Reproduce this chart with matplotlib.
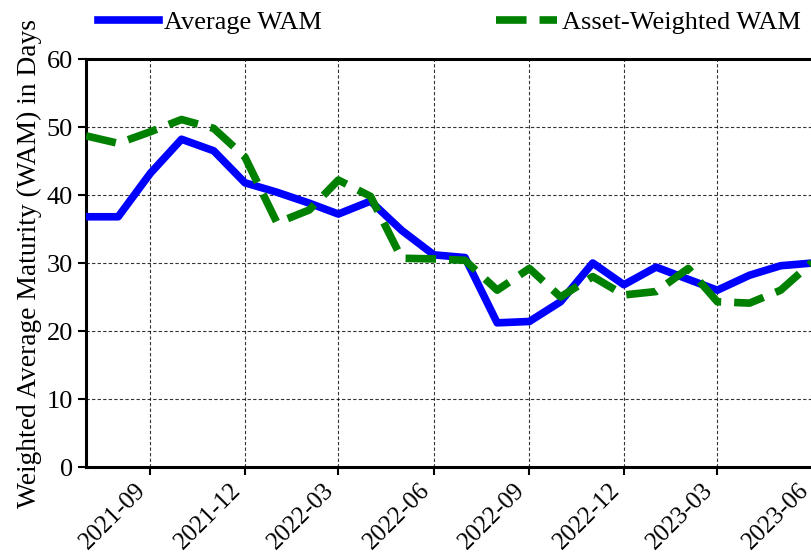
import matplotlib
matplotlib.use("Agg")
import matplotlib.pyplot as plt
import matplotlib.dates as mdates
import pandas as pd

dates = pd.date_range("2021-07-01", "2023-06-01", freq="MS")
average_wam = [36.8, 36.8, 43.2, 48.2, 46.5, 41.8, 40.4, 38.8, 37.2, 39.1, 34.8, 31.2,
               30.8, 21.2, 21.4, 24.3, 30.0, 26.8, 29.4, 27.6, 26.0, 28.2, 29.6, 30.0]
asset_weighted_wam = [48.7, 47.6, 49.3, 51.1, 49.8, 45.6, 35.9, 37.8, 42.2, 39.8, 30.7, 30.6,
                      30.4, 26.0, 29.2, 25.0, 28.0, 25.3, 25.8, 29.2, 24.3, 24.1, 26.0, 30.2]
tick_dates = pd.date_range("2021-09-01", "2023-06-01", freq="3MS")
y_ticks = [0, 10, 20, 30, 40, 50, 60]

plt.rcParams["font.family"] = ["Liberation Serif", "DejaVu Serif"]

W, H = 812, 556
fig = plt.figure(figsize=(W / 100, H / 100), dpi=100)
ax = fig.add_axes([86 / W, (H - 467) / H, (844 - 86) / W, (467 - 59) / H])

ax.plot(dates, average_wam, color="blue", lw=5.5, label="Average WAM", zorder=3)
ax.plot(dates, asset_weighted_wam, color="green", lw=5.5, linestyle=(0, (4, 1.7)),
        label="Asset-Weighted WAM", zorder=3)

ax.set_xlim(pd.Timestamp("2021-07-01"), pd.Timestamp("2023-07-01"))
ax.set_ylim(0, 60)
ax.set_yticks(y_ticks)
ax.set_xticks(tick_dates)
ax.xaxis.set_major_formatter(mdates.DateFormatter("%Y-%m"))
ax.tick_params(axis="both", direction="out", length=6, width=1.5)
ax.tick_params(axis="x", labelsize=18, pad=3)
ax.tick_params(axis="y", labelsize=19)
plt.setp(ax.get_xticklabels(), rotation=45, ha="right")

ax.grid(True, color="black", linestyle=(0, (3, 2)), linewidth=0.8, alpha=0.8, zorder=0)
ax.set_axisbelow(True)
for s in ["left", "top", "bottom"]:
    ax.spines[s].set_linewidth(2.2)
ax.spines["right"].set_visible(False)

ax.set_ylabel("Weighted Average Maturity (WAM) in Days", fontsize=19.8, labelpad=3)

fs = 19
fig.legend(loc="center", bbox_to_anchor=(449.5 / W, 1 - 22.7 / H), ncol=2, frameon=False,
           fontsize=fs, handlelength=2.3, handletextpad=0.2, columnspacing=6.6,
           borderpad=0, borderaxespad=0)

fig.savefig("out.png", dpi=100)
